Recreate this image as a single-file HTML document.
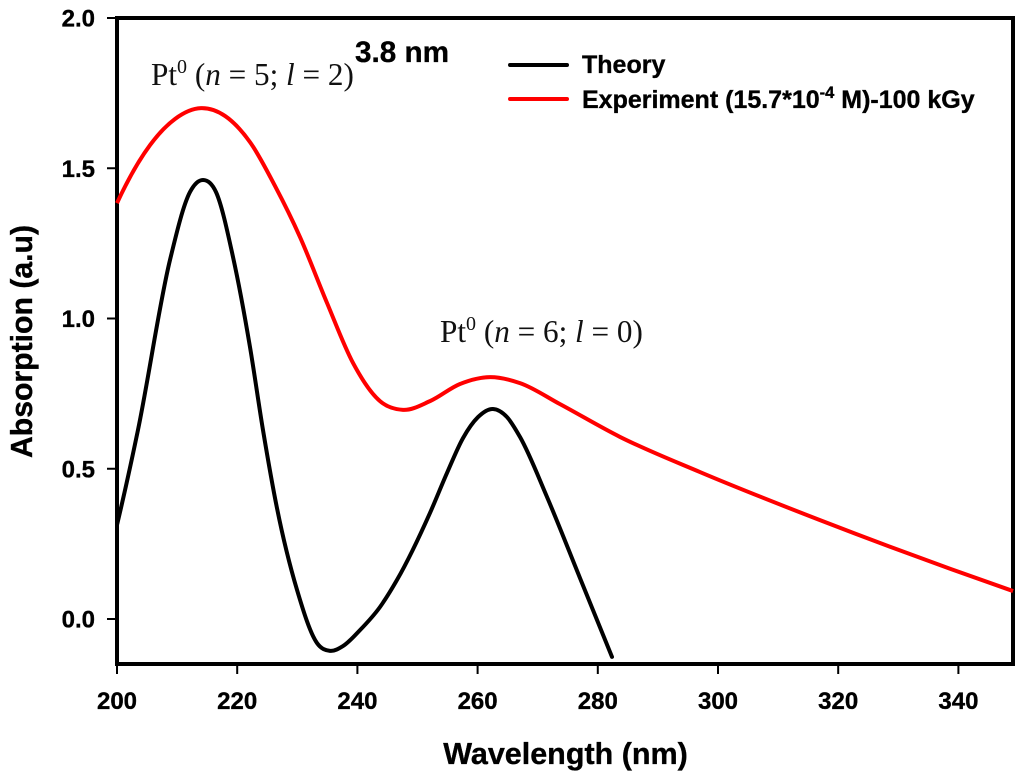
<!DOCTYPE html>
<html lang="en">
<head>
<meta charset="utf-8">
<title>Pt0 absorption spectrum</title>
<style>
html,body{margin:0;padding:0;background:#fff;}
svg{display:block;}
text{fill:#000;stroke:#000;stroke-width:0.35px;font-family:"Liberation Sans",sans-serif;font-weight:bold;}
.serif{font-family:"Liberation Serif",serif;font-weight:normal;font-size:31.2px;fill:#111;stroke:none;}
.tick{font-size:24px;}
.title{font-size:30.5px;}
.legend{font-size:25px;}
</style>
</head>
<body>
<svg id="chart" width="1024" height="782" viewBox="0 0 1024 782" xmlns="http://www.w3.org/2000/svg">
<rect x="117" y="18" width="896" height="646" fill="none" stroke="#000" stroke-width="4"/>
<g id="ticks"></g>
<g id="series"></g>
<text class="title" x="565.5" y="764" text-anchor="middle">Wavelength (nm)</text>
<text class="title" transform="translate(32,341.5) rotate(-90)" text-anchor="middle" style="font-size:30.2px">Absorption (a.u)</text>
<text x="355" y="62" style="font-size:29.7px">3.8 nm</text>
<text class="serif" x="151" y="85">Pt<tspan dy="-12" font-size="20">0</tspan><tspan dy="12"> (</tspan><tspan font-style="italic">n</tspan> = 5; <tspan font-style="italic">l</tspan> = 2)</text>
<text class="serif" x="440" y="342">Pt<tspan dy="-12" font-size="20">0</tspan><tspan dy="12"> (</tspan><tspan font-style="italic">n</tspan> = 6; <tspan font-style="italic">l</tspan> = 0)</text>
<line x1="510" y1="65" x2="567" y2="65" stroke="#000" stroke-width="4" stroke-linecap="round"/>
<text class="legend" x="582" y="73">Theory</text>
<line x1="510" y1="99" x2="567" y2="99" stroke="#f00" stroke-width="4" stroke-linecap="round"/>
<text class="legend" x="582" y="108">Experiment (15.7*10<tspan dy="-10" font-size="16.5">-4</tspan><tspan dy="10"> M)-100 kGy</tspan></text>
</svg>
<script>
const xTickValues = [200, 220, 240, 260, 280, 300, 320, 340];
const xTickLabels = ["200", "220", "240", "260", "280", "300", "320", "340"];
const yTickValues = [0, 0.5, 1, 1.5, 2];
const yTickLabels = ["0.0", "0.5", "1.0", "1.5", "2.0"];

const theoryWavelength = [200, 203.49, 208.82, 212.15, 214.31, 216.47, 219.3, 222.13, 224.29, 226.62, 229.95, 233.28, 235.44, 237.6, 240.43, 243.76, 246.59, 252.08, 254.91, 257.57, 260.07, 262.56, 264.89, 267.05, 271.55, 277.04, 282.36];
const theoryAbsorption = [0.313, 0.629, 1.195, 1.421, 1.461, 1.421, 1.205, 0.905, 0.629, 0.369, 0.097, -0.08, -0.106, -0.09, -0.037, 0.04, 0.13, 0.353, 0.486, 0.602, 0.672, 0.699, 0.672, 0.606, 0.406, 0.136, -0.126];

const experimentWavelength = [200, 205.5, 209.65, 213.98, 217.97, 222.13, 226.29, 230.45, 234.94, 239.27, 243.76, 247.59, 252.08, 257.07, 262.06, 267.05, 273.71, 283.69, 297, 316.97, 349.09];
const experimentAbsorption = [1.384, 1.577, 1.664, 1.7, 1.674, 1.587, 1.441, 1.271, 1.052, 0.852, 0.725, 0.696, 0.725, 0.782, 0.805, 0.785, 0.715, 0.606, 0.489, 0.329, 0.093];

const SVG_NS = "http://www.w3.org/2000/svg";
function xScale(v) { return 117 + (v - 200) * 6.01; }
function yScale(v) { return 619 - v * 300.5; }

const ticksGroup = document.getElementById("ticks");
const seriesGroup = document.getElementById("series");

function makeLine(x1, y1, x2, y2) {
  const l = document.createElementNS(SVG_NS, "line");
  l.setAttribute("x1", x1);
  l.setAttribute("y1", y1);
  l.setAttribute("x2", x2);
  l.setAttribute("y2", y2);
  l.setAttribute("stroke", "#000");
  l.setAttribute("stroke-width", "2");
  return l;
}
function makeLabel(str, x, y, anchor) {
  const t = document.createElementNS(SVG_NS, "text");
  t.setAttribute("class", "tick");
  t.setAttribute("x", x);
  t.setAttribute("y", y);
  t.setAttribute("text-anchor", anchor);
  t.textContent = str;
  return t;
}

xTickValues.forEach(function (v, i) {
  const px = xScale(v);
  const mark = makeLine(px, 664, px, 674);
  
  
  ticksGroup.appendChild(mark);
  const label = makeLabel(xTickLabels[i], px, 709, "middle");
  
  
  ticksGroup.appendChild(label);
});

yTickValues.forEach(function (v, i) {
  const py = yScale(v);
  const mark = makeLine(107, py, 117, py);
  
  
  ticksGroup.appendChild(mark);
  const label = makeLabel(yTickLabels[i], 95, py + 8.5, "end");
  
  
  ticksGroup.appendChild(label);
});

// Cubic Hermite spline with non-uniform three-point tangents, evaluated in pixel space.
function smoothPath(xs, ys) {
  const pts = xs.map(function (x, i) { return [xScale(x), yScale(ys[i])]; });
  const n = pts.length;
  const h = [];
  const s = [];
  for (let i = 0; i < n - 1; i++) {
    h.push(pts[i + 1][0] - pts[i][0]);
    s.push((pts[i + 1][1] - pts[i][1]) / h[i]);
  }
  const m = [];
  for (let i = 0; i < n; i++) {
    if (i === 0) {
      m.push(((2 * h[0] + h[1]) * s[0] - h[0] * s[1]) / (h[0] + h[1]));
    } else if (i === n - 1) {
      m.push(((2 * h[n - 2] + h[n - 3]) * s[n - 2] - h[n - 2] * s[n - 3]) / (h[n - 2] + h[n - 3]));
    } else {
      m.push((s[i - 1] * h[i] + s[i] * h[i - 1]) / (h[i - 1] + h[i]));
    }
  }
  let d = "M" + pts[0][0].toFixed(2) + " " + pts[0][1].toFixed(2);
  for (let i = 0; i < n - 1; i++) {
    const c1x = pts[i][0] + h[i] / 3;
    const c1y = pts[i][1] + m[i] * h[i] / 3;
    const c2x = pts[i + 1][0] - h[i] / 3;
    const c2y = pts[i + 1][1] - m[i + 1] * h[i] / 3;
    d += "C" + c1x.toFixed(2) + " " + c1y.toFixed(2) + " " + c2x.toFixed(2) + " " + c2y.toFixed(2) + " " + pts[i + 1][0].toFixed(2) + " " + pts[i + 1][1].toFixed(2);
  }
  return d;
}

const theoryPath = document.createElementNS(SVG_NS, "path");
theoryPath.setAttribute("d", smoothPath(theoryWavelength, theoryAbsorption));
theoryPath.setAttribute("fill", "none");
theoryPath.setAttribute("stroke", "#000");
theoryPath.setAttribute("stroke-width", "4");
theoryPath.setAttribute("stroke-linejoin", "round");
theoryPath.setAttribute("stroke-linecap", "round");


seriesGroup.appendChild(theoryPath);

const experimentPath = document.createElementNS(SVG_NS, "path");
experimentPath.setAttribute("d", smoothPath(experimentWavelength, experimentAbsorption));
experimentPath.setAttribute("fill", "none");
experimentPath.setAttribute("stroke", "#f00");
experimentPath.setAttribute("stroke-width", "4");
experimentPath.setAttribute("stroke-linejoin", "round");


seriesGroup.appendChild(experimentPath);
</script>
</body>
</html>
